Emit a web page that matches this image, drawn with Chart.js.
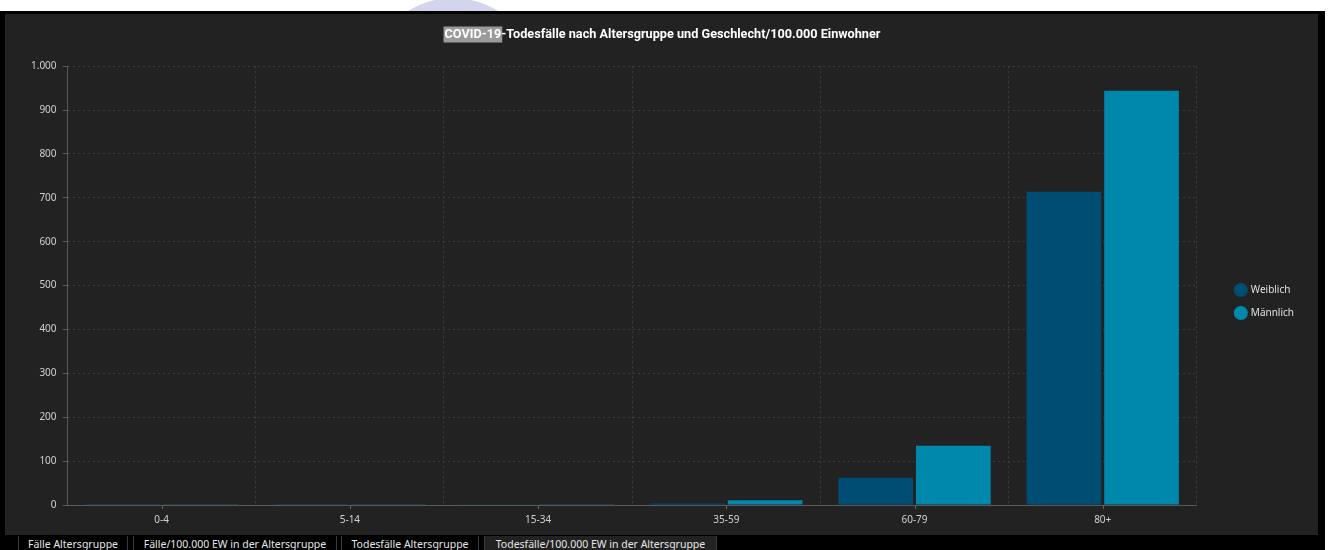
<!DOCTYPE html>
<html>
<head>
<meta charset="utf-8">
<script src="https://cdn.jsdelivr.net/npm/chart.js@4.4.0/dist/chart.umd.min.js"></script>
<style>
  html, body { margin: 0; padding: 0; background: #fff; width: 1330px; height: 550px; overflow: hidden; }
  #logo { position: absolute; left: 368px; top: -2px; width: 170px; height: 170px; border-radius: 50%; background: #d4d4ee; }
  #frame { position: absolute; left: 0; top: 11px; width: 1325px; height: 539px; background: #000; }
  #panel { position: absolute; left: 5px; top: 3px; width: 1313px; height: 521px; background: #222222; }
  #tabs { position: absolute; left: 0; top: 525px; height: 14px; width: 1325px; font-family: "Noto Sans", "Open Sans", sans-serif; font-size: 10.5px; color: #e6e6e6; }
  .tab { position: absolute; top: 0; height: 16px; line-height: 16px; border-left: 1px solid #3a3a3a; border-right: 1px solid #3a3a3a; text-align: center; white-space: nowrap; }
  .tab.active { background: #222222; }
</style>
</head>
<body>
<div id="logo"></div>
<div id="frame">
  <div id="panel"><canvas id="chart" width="1313" height="521"></canvas></div>
  <div id="tabs">
    <div class="tab" style="left:18px;width:108px">Fälle Altersgruppe</div>
    <div class="tab" style="left:133px;width:202px">Fälle/100.000 EW in der Altersgruppe</div>
    <div class="tab" style="left:341px;width:136px">Todesfälle Altersgruppe</div>
    <div class="tab active" style="left:484px;width:231px">Todesfälle/100.000 EW in der Altersgruppe</div>
  </div>
</div>
<script>
var ageGroups = ['0-4', '5-14', '15-34', '35-59', '60-79', '80+'];
var weiblich = [0.2, 0.1, 0.4, 3.5, 62, 714];
var maennlich = [0.4, 0.3, 0.8, 11, 135, 944];
var yTicks = [0, 100, 200, 300, 400, 500, 600, 700, 800, 900, 1000];

var titleText = 'COVID-19-Todesfälle nach Altersgruppe und Geschlecht/100.000 Einwohner';
var titleFont = 'bold 12.7px Roboto';
var titlePadTop = 13;

// selection highlight behind "COVID-19" in the title
var titleHighlight = {
    id: 'titleHighlight',
    beforeDraw: function(chart) {
        var tb = chart.titleBlock;
        if (!tb) return;
        var ctx = chart.ctx;
        ctx.save();
        ctx.font = titleFont;
        var full = ctx.measureText(titleText).width;
        var w = ctx.measureText('COVID-19').width;
        var x0 = (tb.left + tb.right) / 2 - full / 2;
        var cy = tb.top + titlePadTop + 7.5;
        ctx.fillStyle = '#9a9a9a';
        ctx.fillRect(x0 - 1, cy - 8, w + 2, 16);
        ctx.restore();
    }
};

// legend and title sit a bit off from where chart.js puts them
var boxOffset = {
    id: 'boxOffset',
    afterLayout: function(chart) {
        var lg = chart.legend;
        lg.left += 26; lg.right += 26;
        lg.top += 27; lg.bottom += 27;
        var tb = chart.titleBlock;
        tb.left += 11; tb.right += 11;
    }
};

// small tick marks under the category centres
var centerTicks = {
    id: 'centerTicks',
    afterDraw: function(chart) {
        var x = chart.scales.x;
        var ctx = chart.ctx;
        ctx.save();
        ctx.strokeStyle = '#666';
        ctx.lineWidth = 1;
        ageGroups.forEach(function(g, i) {
            var px = Math.round(x.getPixelForValue(i)) + 0.5;
            ctx.beginPath();
            ctx.moveTo(px, x.top);
            ctx.lineTo(px, x.top + 4);
            ctx.stroke();
        });
        ctx.restore();
    }
};

var ctx = document.getElementById('chart').getContext('2d');
var chart = new Chart(ctx, {
    type: 'bar',
    data: {
        labels: ageGroups,
        datasets: [{
            label: 'Weiblich',
            data: weiblich,
            backgroundColor: '#004d73',
            borderWidth: 0
        }, {
            label: 'Männlich',
            data: maennlich,
            backgroundColor: '#0088ac',
            borderWidth: 0
        }]
    },
    options: {
        responsive: false,
        animation: false,
        categoryPercentage: 0.825,
        barPercentage: 0.962,
        layout: { padding: { left: 20, right: 40, bottom: 0 } },
        plugins: {
            title: {
                display: true,
                text: titleText,
                color: '#ffffff',
                font: { family: 'Roboto', size: 12.7, weight: 'bold' },
                padding: { top: titlePadTop, bottom: 24 }
            },
            legend: {
                position: 'right',
                labels: {
                    color: '#e0e0e0',
                    font: { family: 'Noto Sans', size: 10 },
                    usePointStyle: true,
                    pointStyle: 'circle',
                    boxWidth: 10,
                    boxHeight: 10,
                    padding: 13
                }
            },
            tooltip: { enabled: false }
        },
        scales: {
            x: {
                grid: {
                    color: '#3c3c3c',
                    drawTicks: false
                },
                border: { color: '#5a5a5a', dash: [2, 3] },
                ticks: {
                    color: '#d0d0d0',
                    font: { family: 'Noto Sans', size: 10 },
                    padding: 9
                }
            },
            y: {
                min: 0,
                max: 1000,
                afterBuildTicks: function(scale) {
                    scale.ticks = yTicks.map(function(v) { return { value: v }; });
                },
                grid: {
                    color: '#3c3c3c',
                    tickColor: '#5a5a5a',
                    tickLength: 5
                },
                border: { color: '#5a5a5a', dash: [2, 3] },
                ticks: {
                    color: '#d0d0d0',
                    font: { family: 'Noto Sans', size: 10 },
                    padding: 6,
                    callback: function(v) { return v.toLocaleString('de-DE'); }
                }
            }
        }
    },
    plugins: [titleHighlight, boxOffset, centerTicks]
});
</script>
</body>
</html>
